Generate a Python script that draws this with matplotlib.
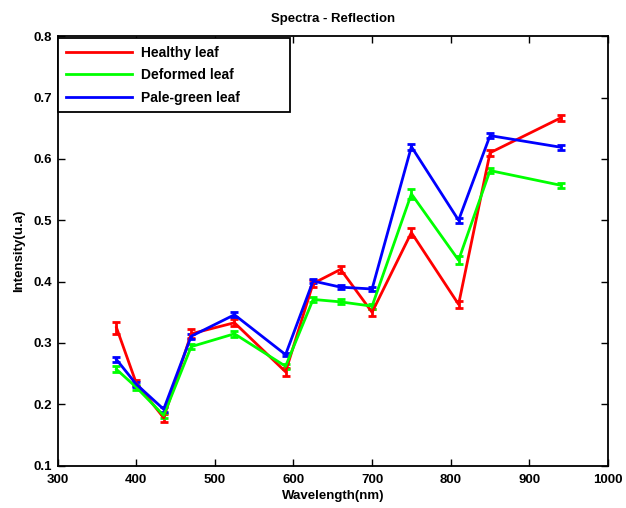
import matplotlib
matplotlib.use("Agg")
import matplotlib.pyplot as plt
from matplotlib.lines import Line2D

# wavelengths (nm)
wavelength = [375, 400, 435, 470, 525, 590, 625, 660, 700, 750, 810, 850, 940]

# mean intensities
healthy = [0.325, 0.235, 0.178, 0.315, 0.333, 0.253, 0.397, 0.420, 0.350, 0.480, 0.363, 0.610, 0.667]
deformed = [0.257, 0.228, 0.182, 0.294, 0.315, 0.262, 0.371, 0.367, 0.360, 0.543, 0.435, 0.581, 0.557]
pale = [0.273, 0.233, 0.192, 0.311, 0.346, 0.281, 0.401, 0.391, 0.388, 0.620, 0.500, 0.638, 0.619]

# error bars
healthy_err = [0.010, 0.005, 0.007, 0.007, 0.006, 0.007, 0.005, 0.006, 0.006, 0.007, 0.006, 0.005, 0.005]
deformed_err = [0.005, 0.004, 0.004, 0.004, 0.005, 0.004, 0.004, 0.004, 0.004, 0.008, 0.007, 0.004, 0.004]
pale_err = [0.004, 0.004, 0.004, 0.004, 0.004, 0.003, 0.004, 0.003, 0.003, 0.005, 0.004, 0.004, 0.004]

labels = ["Healthy leaf", "Deformed leaf", "Pale-green leaf"]
colors = ["#ff0000", "#00ff00", "#0000ff"]

plt.rcParams['font.family'] = ['Liberation Sans', 'DejaVu Sans']
plt.rcParams['font.weight'] = 'bold'

fig = plt.figure(figsize=(6.26, 5.08), dpi=100)
ax = fig.add_axes([57.5 / 626, 1 - 465.7 / 508, 550.5 / 626, 429.5 / 508])

series = [healthy, deformed, pale]
errs = [healthy_err, deformed_err, pale_err]
for vals, e, c in zip(series, errs, colors):
    ax.errorbar(wavelength, vals, yerr=e, color=c, lw=2, elinewidth=2,
                capsize=2.6, capthick=2)

ax.set_xlim(300, 1000)
ax.set_ylim(0.1, 0.8)
ax.set_xticks(range(300, 1001, 100))
ax.set_yticks([0.1, 0.2, 0.3, 0.4, 0.5, 0.6, 0.7, 0.8])
ax.tick_params(direction='in', length=5, width=1, labelsize=9.5,
               top=True, right=True)
ax.tick_params(axis='x', pad=6)
ax.tick_params(axis='y', pad=4)
for s in ax.spines.values():
    s.set_linewidth(1.3)

ax.set_title("Spectra - Reflection", fontsize=9.5, fontweight='bold', pad=10)
ax.set_xlabel("Wavelength(nm)", fontsize=9.5, fontweight='bold', labelpad=3)
ax.set_ylabel("Intensity(u.a)", fontsize=9.5, fontweight='bold', labelpad=6)

handles = [Line2D([], [], color=c, lw=2) for c in colors]
leg = ax.legend(handles, labels, loc='upper left', bbox_to_anchor=(0.001, 0.996, 0.421, 0),
                mode='expand', fontsize=10, frameon=True, fancybox=False,
                edgecolor='black', borderaxespad=0, handlelength=4.8, handletextpad=0.6,
                borderpad=0.55, labelspacing=0.62)
leg.get_frame().set_linewidth(1.3)
leg.get_frame().set_alpha(1)

plt.savefig("out.png", dpi=100, facecolor='white')
